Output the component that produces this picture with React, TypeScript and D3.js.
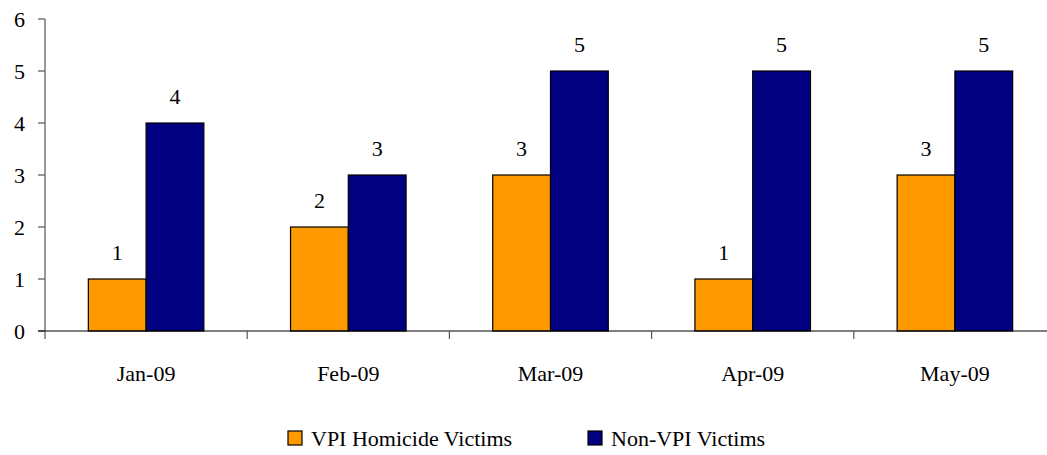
import React from "react";
import * as d3 from "d3";

// chart data
const months = ["Jan-09", "Feb-09", "Mar-09", "Apr-09", "May-09"];
const vpiVictims = [1, 2, 3, 1, 3];
const nonVpiVictims = [4, 3, 5, 5, 5];
const seriesNames = ["VPI Homicide Victims", "Non-VPI Victims"];
const seriesColors = ["#FF9900", "#000080"];
const yTicks = [0, 1, 2, 3, 4, 5, 6];

const width = 1047,
  height = 455;
const margin = { top: 19, left: 45 };
const plotBottom = 331;
const catWidth = 202.2;
const font = "Liberation Serif";
const fontSize = 22;

const App = () => {
  const x = d3
    .scaleBand()
    .domain(months)
    .range([margin.left, margin.left + catWidth * months.length])
    .padding(0);

  const y = d3.scaleLinear().domain([0, 6]).range([plotBottom, margin.top]);

  // two bars side by side in the middle of each category
  const sub = d3
    .scaleBand()
    .domain(["0", "1"])
    .range([0, x.bandwidth()])
    .paddingOuter(0.75)
    .paddingInner(0);

  const series = [vpiVictims, nonVpiVictims];
  const legendX = [288, 588];

  return (
    <div style={{ position: "absolute", left: 0, top: 0 }}>
      <svg width={width} height={height} style={{ display: "block", background: "#fff" }}>
        {/* bars + value labels */}
        {series.map((vals, si) =>
          vals.map((d, i) => {
            const bx = (x(months[i]) as number) + (sub(String(si)) as number);
            return (
              <g key={si + "-" + i}>
                <rect
                  x={bx}
                  y={y(d)}
                  width={sub.bandwidth()}
                  height={y(0) - y(d)}
                  fill={seriesColors[si]}
                  stroke="#000"
                  strokeWidth={1.2}
                />
                <text
                  x={bx + sub.bandwidth() / 2}
                  y={y(d) - 19}
                  textAnchor="middle"
                  fontFamily={font}
                  fontSize={fontSize}
                >
                  {d}
                </text>
              </g>
            );
          })
        )}

        {/* y axis */}
        <line x1={margin.left} x2={margin.left} y1={y(6)} y2={y(0)} stroke="#555" strokeWidth={1.2} />
        {yTicks.map((t) => (
          <g key={"y" + t}>
            <line x1={margin.left - 7} x2={margin.left} y1={y(t)} y2={y(t)} stroke="#555" strokeWidth={1.2} />
            <text x={25} y={y(t) + 8} textAnchor="end" fontFamily={font} fontSize={fontSize}>
              {t}
            </text>
          </g>
        ))}

        {/* x axis */}
        <line x1={margin.left - 7} x2={width} y1={y(0)} y2={y(0)} stroke="#000" strokeWidth={1.2} />
        {months.map((m) => (
          <g key={m}>
            <line x1={x(m)} x2={x(m)} y1={y(0)} y2={y(0) + 8} stroke="#555" strokeWidth={1.2} />
            <text
              x={(x(m) as number) + x.bandwidth() / 2}
              y={381}
              textAnchor="middle"
              fontFamily={font}
              fontSize={fontSize}
            >
              {m}
            </text>
          </g>
        ))}

        {/* legend */}
        {seriesNames.map((name, i) => (
          <g key={name}>
            <rect x={legendX[i]} y={431} width={14} height={14} fill={seriesColors[i]} stroke="#000" strokeWidth={1.2} />
            <text x={legendX[i] + 23} y={446} fontFamily={font} fontSize={fontSize}>
              {name}
            </text>
          </g>
        ))}
      </svg>
    </div>
  );
};

export default App;
